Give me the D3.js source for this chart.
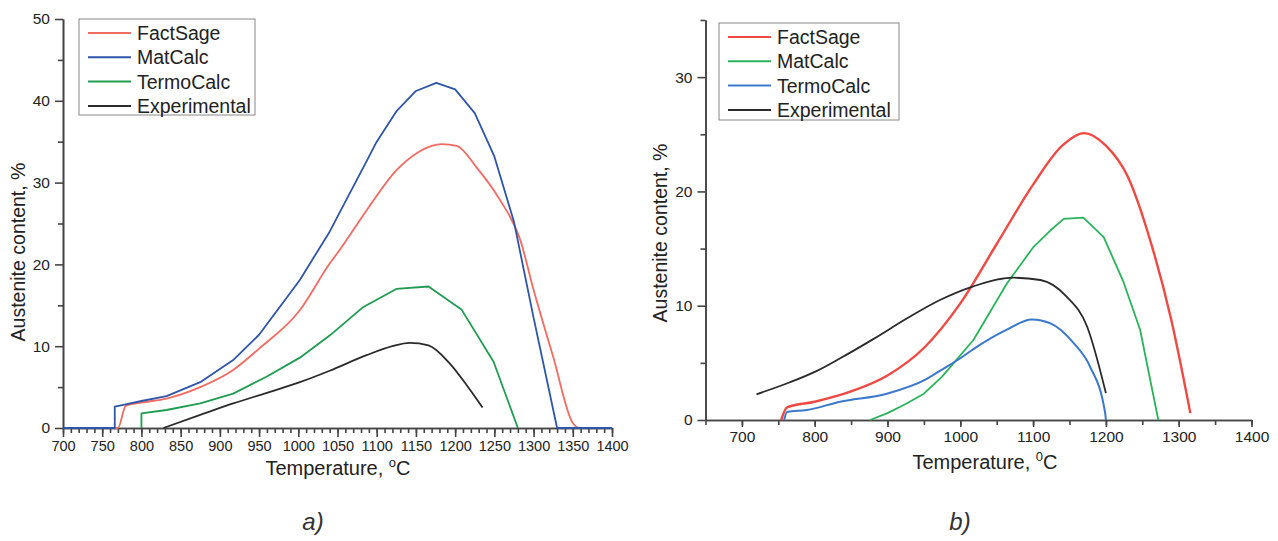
<!DOCTYPE html>
<html>
<head>
<meta charset="utf-8">
<script src="https://cdn.jsdelivr.net/npm/d3@7"></script>
<style>
  body { margin: 0; background: #fff; }
  svg { font-family: "Liberation Sans", Arial, sans-serif; }
  .axis path, .axis line { stroke: #444; stroke-width: 1.6; }
  .axis text { fill: #222; }
</style>
</head>
<body>
<div id="vis"></div>
<script>
// ---- data, panel a ----
var seriesNames = ["FactSage", "MatCalc", "TermoCalc", "Experimental"];

var factSageA = [[700,0],[770,0],[780,2.7],[800,3.1],[832,3.6],[875,5.0],[917,7.1],[950,9.7],[1002,14.4],[1040,20.1],[1053,21.8],[1087,26.6],[1125,31.5],[1151,33.6],[1170,34.5],[1183,34.7],[1202,34.5],[1227,31.9],[1257,27.9],[1283,23.0],[1300,16.9],[1325,8.7],[1350,0.6],[1359,0],[1400,0]];
var matCalcA = [[700,0],[766,0],[766,2.6],[780,2.9],[800,3.3],[832,3.9],[875,5.6],[917,8.3],[950,11.4],[1002,18.1],[1040,24.0],[1053,26.4],[1087,32.6],[1100,35.0],[1125,38.7],[1150,41.2],[1176,42.2],[1200,41.4],[1225,38.5],[1250,33.2],[1275,25.2],[1300,13.5],[1330,0],[1400,0]];
var termoCalcA = [[800,0],[800,1.8],[832,2.2],[875,3.0],[917,4.2],[960,6.3],[1002,8.6],[1040,11.3],[1083,14.8],[1125,17.0],[1166,17.3],[1208,14.5],[1249,8.1],[1280,0]];
var experimentalA = [[828,0],[875,1.6],[917,3.0],[960,4.3],[1002,5.6],[1040,7.0],[1087,8.9],[1120,10.0],[1142,10.4],[1166,10.1],[1193,7.9],[1215,5.2],[1235,2.5]];

// ---- data, panel b ----
var factSageB = [[754,0],[762,1.1],[800,1.6],[850,2.5],[900,3.9],[950,6.3],[1000,10.2],[1050,15.4],[1100,20.6],[1140,24.0],[1170,25.1],[1200,24.0],[1230,21.3],[1260,15.9],[1290,8.7],[1316,0.6]];
var matCalcB = [[876,0],[900,0.6],[925,1.4],[950,2.3],[975,3.8],[1018,7.0],[1064,11.95],[1100,15.1],[1124,16.6],[1142,17.6],[1169,17.7],[1197,16.0],[1224,12.1],[1247,7.9],[1272,0]];
var termoCalcB = [[758,0],[762,0.7],[789,0.87],[835,1.6],[899,2.3],[954,3.6],[972,4.3],[1000,5.4],[1018,6.2],[1064,7.9],[1098,8.8],[1124,8.45],[1156,6.7],[1178,4.7],[1199,0.6],[1200,0]];
var experimentalB = [[720,2.25],[766,3.3],[803,4.3],[835,5.4],[881,7.1],[927,8.9],[972,10.5],[1018,11.7],[1073,12.45],[1110,12.25],[1146,10.8],[1174,8.2],[1200,2.35]];

var xTicksA = d3.range(700, 1401, 50);
var yTicksA = [0, 10, 20, 30, 40, 50];
var xTicksB = d3.range(700, 1401, 100);
var yTicksB = [0, 10, 20, 30];

var svg = d3.select("#vis").append("svg")
    .attr("width", 1278)
    .attr("height", 541);

function drawPanel(p) {
    var x = d3.scaleLinear().domain(p.xDomain).range(p.xRange);
    var y = d3.scaleLinear().domain(p.yDomain).range(p.yRange);
    var g = svg.append("g");

    // minor ticks
    g.append("g")
        .attr("class", "axis")
        .attr("transform", "translate(0," + p.yRange[0] + ")")
        .call(d3.axisBottom(x).tickValues(p.xMinor).tickSize(5).tickSizeOuter(0).tickFormat(""));
    g.append("g")
        .attr("class", "axis")
        .attr("transform", "translate(" + p.xRange[0] + ",0)")
        .call(d3.axisLeft(y).tickValues(p.yMinor).tickSize(5).tickSizeOuter(0).tickFormat(""));

    // major ticks
    var xa = g.append("g")
        .attr("class", "axis")
        .attr("transform", "translate(0," + p.yRange[0] + ")")
        .call(d3.axisBottom(x).tickValues(p.xTicks).tickSize(p.majorX).tickSizeOuter(0)
            .tickPadding(4).tickFormat(d3.format("d")));
    xa.selectAll("text").style("font-size", p.xFont + "px");
    var ya = g.append("g")
        .attr("class", "axis")
        .attr("transform", "translate(" + p.xRange[0] + ",0)")
        .call(d3.axisLeft(y).tickValues(p.yTicks).tickSize(8).tickSizeOuter(0)
            .tickPadding(5).tickFormat(d3.format("d")));
    ya.selectAll("text").style("font-size", "15.5px");

    // lines
    p.series.forEach(function(s) {
        var line = d3.line()
            .curve(s.curve)
            .x(function(d) { return x(d[0]); })
            .y(function(d) { return y(d[1]); });
        g.append("path")
            .attr("d", line(s.data))
            .attr("fill", "none")
            .attr("stroke", s.color)
            .attr("stroke-width", s.width)
            .attr("stroke-linejoin", "round");
    });

    // axis titles
    var xt = g.append("text")
        .attr("x", p.xTitle[0]).attr("y", p.xTitle[1])
        .attr("text-anchor", "middle")
        .style("font-size", "20px").attr("fill", "#222")
        .text("Temperature, ");
    xt.append("tspan").attr("dy", -8).style("font-size", "13px").text(p.degree);
    xt.append("tspan").attr("dy", 8).text("C");

    g.append("text")
        .attr("transform", "translate(" + p.yTitle[0] + "," + p.yTitle[1] + ") rotate(-90)")
        .attr("text-anchor", "middle")
        .style("font-size", "19.5px").attr("fill", "#222")
        .text("Austenite content, %");

    // legend
    var lg = g.append("g").attr("transform", "translate(" + p.legend.x + "," + p.legend.y + ")");
    lg.append("rect")
        .attr("width", p.legend.w).attr("height", p.legend.h)
        .attr("fill", "#fff").attr("stroke", "#888").attr("stroke-width", 1);
    p.series.forEach(function(s, i) {
        var cy = 14 + i * 24.3;
        lg.append("line")
            .attr("x1", 9).attr("x2", 52).attr("y1", cy).attr("y2", cy)
            .attr("stroke", s.color).attr("stroke-width", 2);
        lg.append("text")
            .attr("x", 58).attr("y", cy + 7)
            .style("font-size", "19.5px").attr("fill", "#222")
            .text(seriesNames[i]);
    });

    svg.append("text")
        .attr("x", p.tag[0]).attr("y", p.tag[1])
        .attr("text-anchor", "middle")
        .style("font-size", "24px").style("font-style", "italic")
        .attr("fill", "#333")
        .text(p.tagText);
}

drawPanel({
    xDomain: [700, 1400], xRange: [63, 612],
    yDomain: [0, 50], yRange: [428, 19],
    xTicks: xTicksA, xMinor: d3.range(700, 1401, 10),
    yTicks: yTicksA, yMinor: [5, 15, 25, 35, 45],
    majorX: 9, xFont: 14.5,
    series: [
        {data: factSageA, color: "#f26b63", width: 1.8, curve: d3.curveMonotoneX},
        {data: matCalcA, color: "#2f55a8", width: 1.8, curve: d3.curveLinear},
        {data: termoCalcA, color: "#1f9c50", width: 1.8, curve: d3.curveLinear},
        {data: experimentalA, color: "#2a2a2a", width: 1.8, curve: d3.curveMonotoneX}
    ],
    xTitle: [338, 475], yTitle: [25, 252], degree: "o",
    legend: {x: 79, y: 19, w: 176, h: 96},
    tag: [313, 530], tagText: "a)"
});

drawPanel({
    xDomain: [650, 1400], xRange: [705.5, 1251.5],
    yDomain: [0, 35], yRange: [420, 20],
    xTicks: xTicksB, xMinor: d3.range(650, 1401, 50),
    yTicks: yTicksB, yMinor: [5, 15, 25, 35],
    majorX: 7, xFont: 15.5,
    series: [
        {data: factSageB, color: "#ee4a43", width: 2.4, curve: d3.curveMonotoneX},
        {data: matCalcB, color: "#2bb35b", width: 1.8, curve: d3.curveLinear},
        {data: termoCalcB, color: "#3a78cc", width: 2, curve: d3.curveMonotoneX},
        {data: experimentalB, color: "#2a2a2a", width: 1.8, curve: d3.curveMonotoneX}
    ],
    xTitle: [985, 469], yTitle: [667, 233], degree: "0",
    legend: {x: 719, y: 23, w: 180, h: 97},
    tag: [960, 530], tagText: "b)"
});
</script>
</body>
</html>
